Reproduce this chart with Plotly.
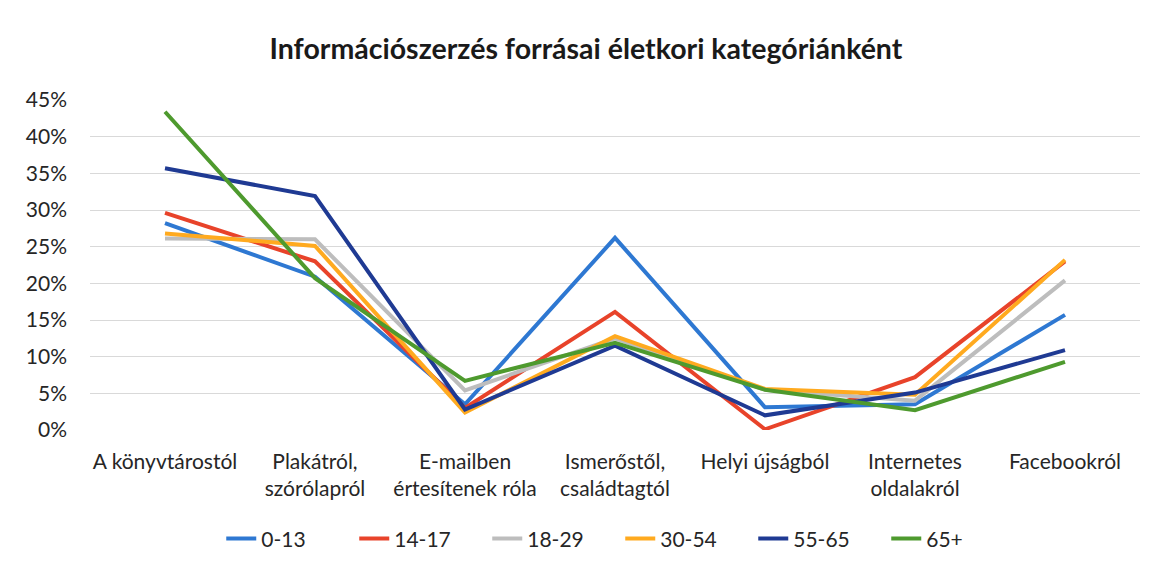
import plotly.graph_objects as go

categories = ["A könyvtárostól", "Plakátról,<br>szórólapról", "E-mailben<br>értesítenek róla",
              "Ismerőstől,<br>családtagtól", "Helyi újságból", "Internetes<br>oldalakról", "Facebookról"]

s_0_13 = [0.282, 0.209, 0.035, 0.262, 0.031, 0.035, 0.157]
s_14_17 = [0.296, 0.230, 0.030, 0.161, 0.001, 0.072, 0.230]
s_18_29 = [0.261, 0.260, 0.054, 0.125, 0.055, 0.040, 0.204]
s_30_54 = [0.268, 0.251, 0.024, 0.128, 0.056, 0.048, 0.232]
s_55_65 = [0.357, 0.319, 0.028, 0.115, 0.020, 0.051, 0.109]
s_65p = [0.434, 0.207, 0.067, 0.119, 0.055, 0.027, 0.093]

series_names = ["0-13", "14-17", "18-29", "30-54", "55-65", "65+"]
series_values = [s_0_13, s_14_17, s_18_29, s_30_54, s_55_65, s_65p]
colors = ["#2E78D2", "#E8432A", "#BDBDBD", "#FFAA1F", "#1F3A93", "#4E9A2E"]

FONT = "Lato"

fig = go.Figure()
for name, vals, col in zip(series_names, series_values, colors):
    fig.add_trace(go.Scatter(x=categories, y=vals, name=name, mode="lines",
                             line=dict(color=col, width=4)))

# page body adds an 8px offset, so the figure is sized 8px smaller
fig.update_layout(
    width=1149, height=563,
    paper_bgcolor="white", plot_bgcolor="white",
    margin=dict(l=82, r=17, t=92, b=138),
    font=dict(family=FONT, size=21, color="#262626"),
    title=dict(text="<b>Információszerzés forrásai életkori kategóriánként</b>",
               x=0.503, xanchor="center", y=0.928, yanchor="middle",
               font=dict(family=FONT, size=28.5, color="#1a1a1a")),
    legend=dict(orientation="h", x=0.505, xanchor="center", y=-0.33, yanchor="middle",
                font=dict(size=21, color="#262626"), traceorder="normal",
                tracegroupgap=0, entrywidth=88, entrywidthmode="pixels"),
    showlegend=True,
)
fig.update_xaxes(range=[-0.5, 6.5], showgrid=False, showline=False, ticks="",
                 tickfont=dict(size=21), ticklabelstandoff=17)
fig.update_yaxes(range=[0, 0.45], dtick=0.05, tickformat=".0%", showgrid=True,
                 gridcolor="#D9D9D9", gridwidth=1, zeroline=False, showline=False,
                 ticks="", tickfont=dict(size=21), ticklabelstandoff=22)

fig.write_html("out.html")
